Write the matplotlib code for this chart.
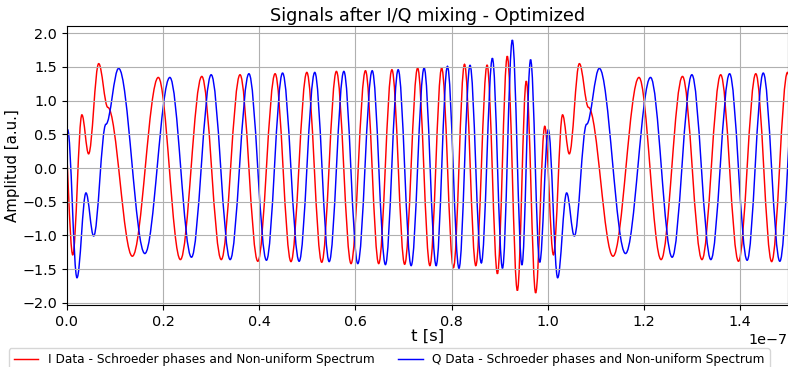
import matplotlib
matplotlib.use('Agg')
import matplotlib.pyplot as plt
from matplotlib.path import Path
from matplotlib.patches import PathPatch
from matplotlib.lines import Line2D

# 1. Extrema of the two signals (time in units of 1e-7 s)
i_time = [-0.006, 0.012, 0.031, 0.045, 0.066, 0.085, 0.136, 0.190, 0.236, 0.2805,
          0.321, 0.360, 0.397, 0.433, 0.466, 0.499, 0.530, 0.5605, 0.591, 0.621,
          0.6485, 0.676, 0.7025, 0.7295, 0.755, 0.7795, 0.804, 0.827, 0.8505, 0.874,
          0.8955, 0.916, 0.937, 0.9555, 0.975, 0.994, 1.012, 1.031, 1.045, 1.066,
          1.085, 1.136, 1.190, 1.236, 1.2805, 1.321, 1.360, 1.397, 1.433, 1.466,
          1.499, 1.530]
i_amp = [0.62, -1.29, 0.79, 0.21, 1.55, 0.90, -1.31, 1.345, -1.36, 1.36,
         -1.36, 1.385, -1.385, 1.40, -1.39, 1.42, -1.40, 1.435, -1.42, 1.445,
         -1.42, 1.46, -1.43, 1.485, -1.45, 1.485, -1.48, 1.54, -1.45, 1.53,
         -1.57, 1.66, -1.82, 1.29, -1.855, 0.62, -1.29, 0.79, 0.21, 1.55,
         0.90, -1.31, 1.345, -1.36, 1.36, -1.36, 1.385, -1.385, 1.40, -1.39,
         1.42, -1.40]

q_time = [-0.0166, 0.0014, 0.0208, 0.0395, 0.0555, 0.081, 0.1075, 0.162, 0.214, 0.259,
          0.300, 0.3395, 0.3785, 0.415, 0.4485, 0.483, 0.5155, 0.5455, 0.576, 0.605,
          0.635, 0.6625, 0.689, 0.716, 0.743, 0.768, 0.7915, 0.8155, 0.8385, 0.862,
          0.885, 0.906, 0.9265, 0.9465, 0.9645, 0.9835, 1.0014, 1.0208, 1.0395, 1.0555,
          1.081, 1.1075, 1.162, 1.214, 1.259, 1.300, 1.3395, 1.3785, 1.415, 1.4485,
          1.483, 1.5155]
q_amp = [-1.40, 0.57, -1.63, -0.37, -1.01, 0.65, 1.48, -1.27, 1.345, -1.325,
         1.385, -1.36, 1.40, -1.37, 1.41, -1.385, 1.42, -1.39, 1.435, -1.42,
         1.445, -1.435, 1.46, -1.45, 1.485, -1.45, 1.51, -1.49, 1.525, -1.41,
         1.63, -1.49, 1.90, -1.44, 1.61, -1.40, 0.57, -1.63, -0.37, -1.01,
         0.65, 1.48, -1.27, 1.345, -1.325, 1.385, -1.36, 1.40, -1.37, 1.41,
         -1.385, 1.42]

labels = ['I Data - Schroeder phases and Non-uniform Spectrum',
          'Q Data - Schroeder phases and Non-uniform Spectrum']
colors = ['red', 'blue']


# smooth curve through the extrema (flat tangent at each one)
def wave_path(times, amps, k=0.36):
    ts = [t * 1e-7 for t in times]
    verts = [(ts[0], amps[0])]
    codes = [Path.MOVETO]
    for n in range(len(ts) - 1):
        dt = ts[n + 1] - ts[n]
        verts += [(ts[n] + k * dt, amps[n]), (ts[n + 1] - k * dt, amps[n + 1]), (ts[n + 1], amps[n + 1])]
        codes += [Path.CURVE4] * 3
    return Path(verts, codes)


# 2. Plot
fig = plt.figure(figsize=(7.88, 3.67), dpi=100)
ax = fig.add_axes([0.085, 0.169, 0.915, 0.760])

for (times, amps), c in zip([(i_time, i_amp), (q_time, q_amp)], colors):
    ax.add_patch(PathPatch(wave_path(times, amps), fill=False, edgecolor=c, lw=1.05))

ax.set_xlim(0, 1.5e-7)
ax.set_ylim(-2.034, 2.108)
ax.grid(True)
ax.tick_params(labelsize=10.4)
ax.xaxis.get_offset_text().set_fontsize(10.4)

ax.set_title('Signals after I/Q mixing - Optimized', fontsize=12.7, pad=4)
ax.set_xlabel('t [s]', fontsize=11.8, labelpad=0)
ax.set_ylabel('Amplitud [a.u.]', fontsize=10.8, labelpad=2)

handles = [Line2D([], [], color=c, lw=1.05) for c in colors]
fig.legend(handles, labels, ncol=2, fontsize=8.7, loc='upper center',
           bbox_to_anchor=(0.494, 0.068))

fig.savefig('out.png', dpi=100)
